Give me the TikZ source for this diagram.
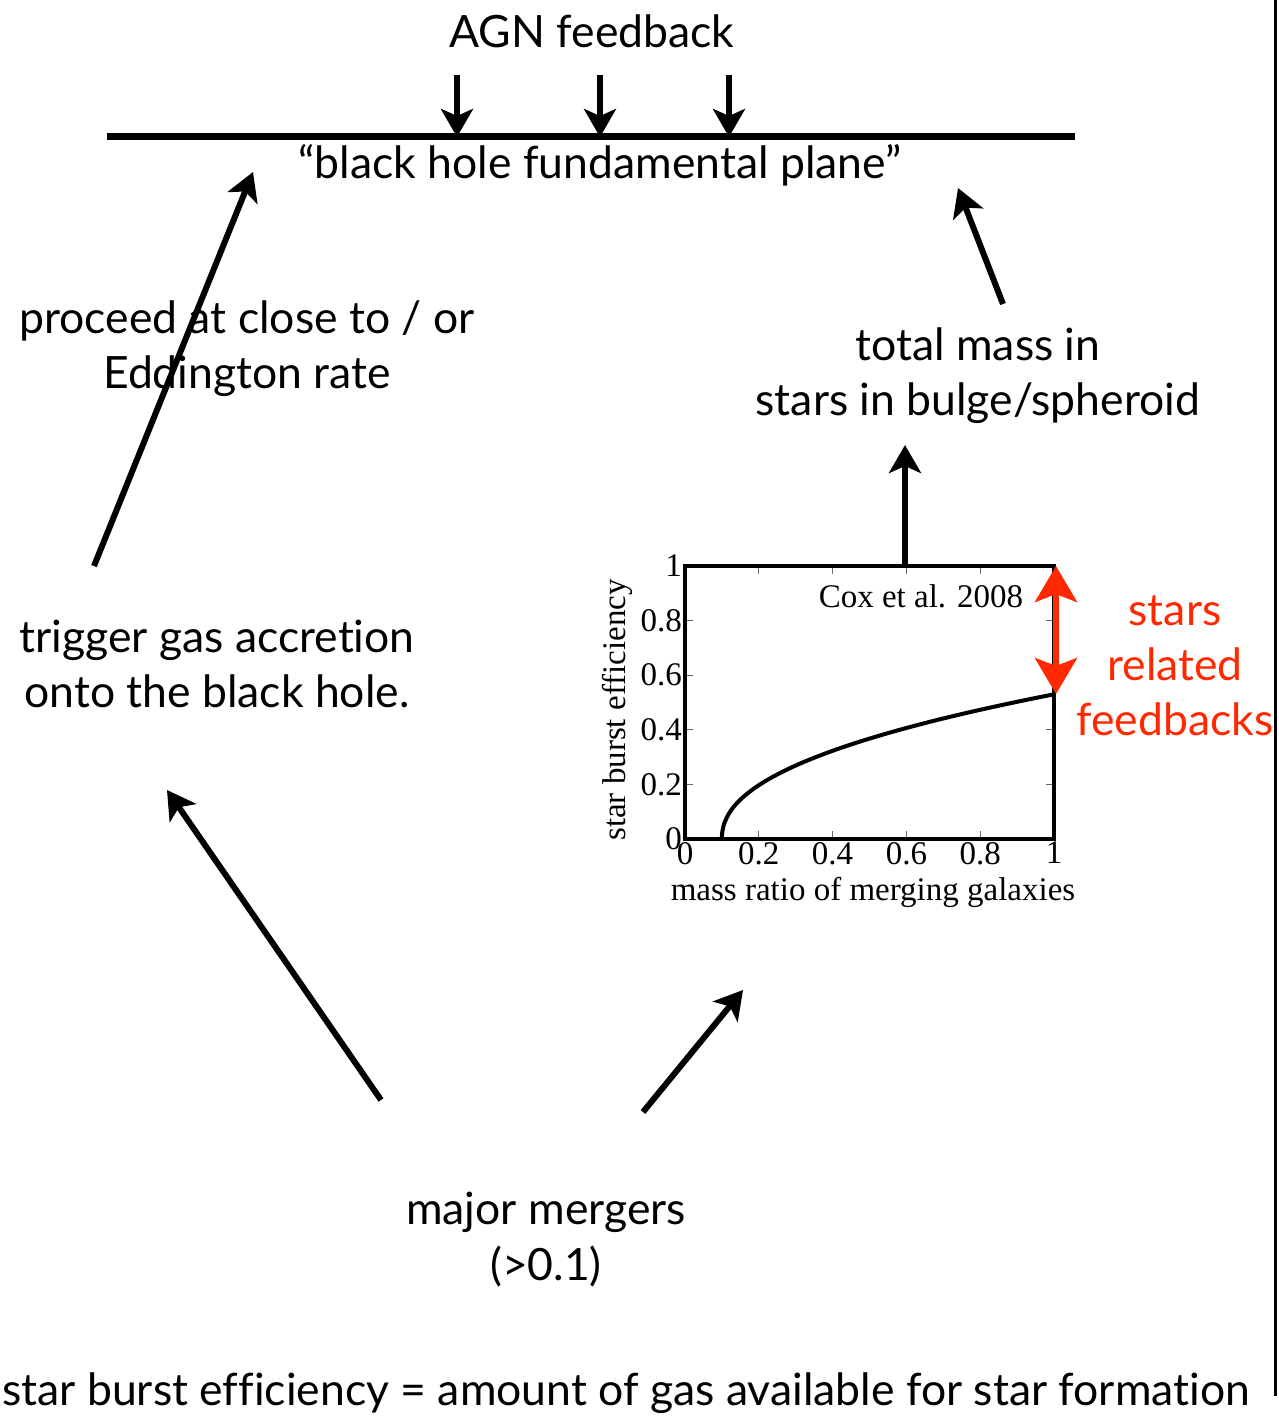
\documentclass[tikz,border=0pt]{standalone}
\usepackage{fontspec}
\setmainfont[Ligatures={TeX,NoCommon}]{Lato}
\newfontfamily\timesf{Liberation Serif}
\usetikzlibrary{arrows.meta}
\definecolor{fbred}{RGB}{255,40,0}
\begin{document}
\begin{tikzpicture}[x=1pt,y=-1pt,
  lbl/.style={inner sep=0pt, anchor=base, font=\fontsize{44.5}{52}\selectfont},
  redlbl/.style={lbl, text=fbred},
  tk/.style={inner sep=0pt, font=\timesf\fontsize{33}{38}\selectfont},
  arr/.style={line width=6pt, -{Stealth[length=28pt,width=32pt,inset=7pt]}},
  redarr/.style={fbred, line width=6pt, {Stealth[length=36pt,width=42pt,inset=8pt]}-{Stealth[length=36pt,width=42pt,inset=8pt]}}
]
\useasboundingbox (0,0) rectangle (1278,1419);
% right edge line
\draw[line width=3pt] (1275,0) -- (1275,1396);

% plane
\coordinate (pl) at (107,136);
\coordinate (pr) at (1075,136);
\draw[line width=7pt] (pl) -- (pr);
\node[lbl] (agn) at (592,47) {AGN feedback};
\node[lbl] (plane) at (600,178) {“black hole fundamental plane”};
\foreach \i/\xx in {1/457,2/600,3/729}{
  \coordinate (fa\i) at (\xx,75);
  \coordinate (fb\i) at (\xx,137);
  \draw[arr] (fa\i) -- (fb\i);
}

% left upper text
\node[lbl] (proc1) at (247,333) {proceed at close to / or};
\node[lbl] (proc2) at (247,388) {Eddington rate};
\coordinate (a1s) at (94,566);
\coordinate (a1e) at (253,172);
\draw[arr] (a1s) -- (a1e);

% right upper text
\node[lbl] (tot1) at (978,360) {total mass in};
\node[lbl] (tot2) at (978,415) {stars in bulge/spheroid};
\coordinate (a2s) at (1003,304);
\coordinate (a2e) at (958,188);
\draw[arr] (a2s) -- (a2e);

% trigger text
\node[lbl] (trig1) at (217,652) {trigger gas accretion};
\node[lbl] (trig2) at (217,707) {onto the black hole.};

% mergers
\node[lbl] (maj1) at (546,1224) {major mergers};
\node[lbl] (maj2) at (546,1280) {(>0.1)};
\coordinate (a3s) at (381,1100);
\coordinate (a3e) at (167,790);
\draw[arr] (a3s) -- (a3e);
\coordinate (a4s) at (643,1112);
\coordinate (a4e) at (743,990);
\draw[arr] (a4s) -- (a4e);

% bottom line
\node[lbl, anchor=base west] (def) at (2,1405) {star burst efficiency = amount of gas available for star formation};

% plot
\def\px#1{685+369*#1}
\def\py#1{839-273*#1}
\foreach \t in {0.2,0.4,0.6,0.8}{
  \draw[line width=1pt, black!60] ({\px{\t}},839) -- ++(0,-8);
  \draw[line width=1pt, black!60] ({\px{\t}},566) -- ++(0,8);
  \draw[line width=1pt, black!60] (685,{\py{\t}}) -- ++(8,0);
  \draw[line width=1pt, black!60] (1054,{\py{\t}}) -- ++(-8,0);
}
\draw[line width=4pt] (685,566) rectangle (1054,839);
\draw[line width=4pt, line join=round] plot[domain=0.001:1, samples=120, smooth] ({\px{(0.1+0.9*(\x)^2.22)}},{\py{(0.53*\x)}});
\coordinate (upa) at (905,568);
\coordinate (upb) at (905,445);
\draw[arr] (upa) -- (upb);
\node[tk, anchor=base] (cox) at (921,607) {Cox et al. 2008};
\foreach \v/\l in {0/0,0.2/0.2,0.4/0.4,0.6/0.6,0.8/0.8,1/1}{
  \node[tk, anchor=east] (yl\l) at (682,{\py{\v}}) {\l};
  \node[tk, anchor=north] (xl\l) at ({\px{\v}},842) {\l};
}
\node[tk, rotate=90, anchor=south] (ylab) at (633,710) {star burst efficiency};
\node[tk, anchor=base] (xlab) at (873,900) {mass ratio of merging galaxies};

% red arrow & text
\coordinate (r1) at (1056,566);
\coordinate (r2) at (1056,694);
\draw[redarr] (r1) -- (r2);
\node[redlbl] (st1) at (1175,625) {stars};
\node[redlbl] (st2) at (1175,680) {related};
\node[redlbl] (st3) at (1175,735) {feedbacks};
\end{tikzpicture}
\end{document}
